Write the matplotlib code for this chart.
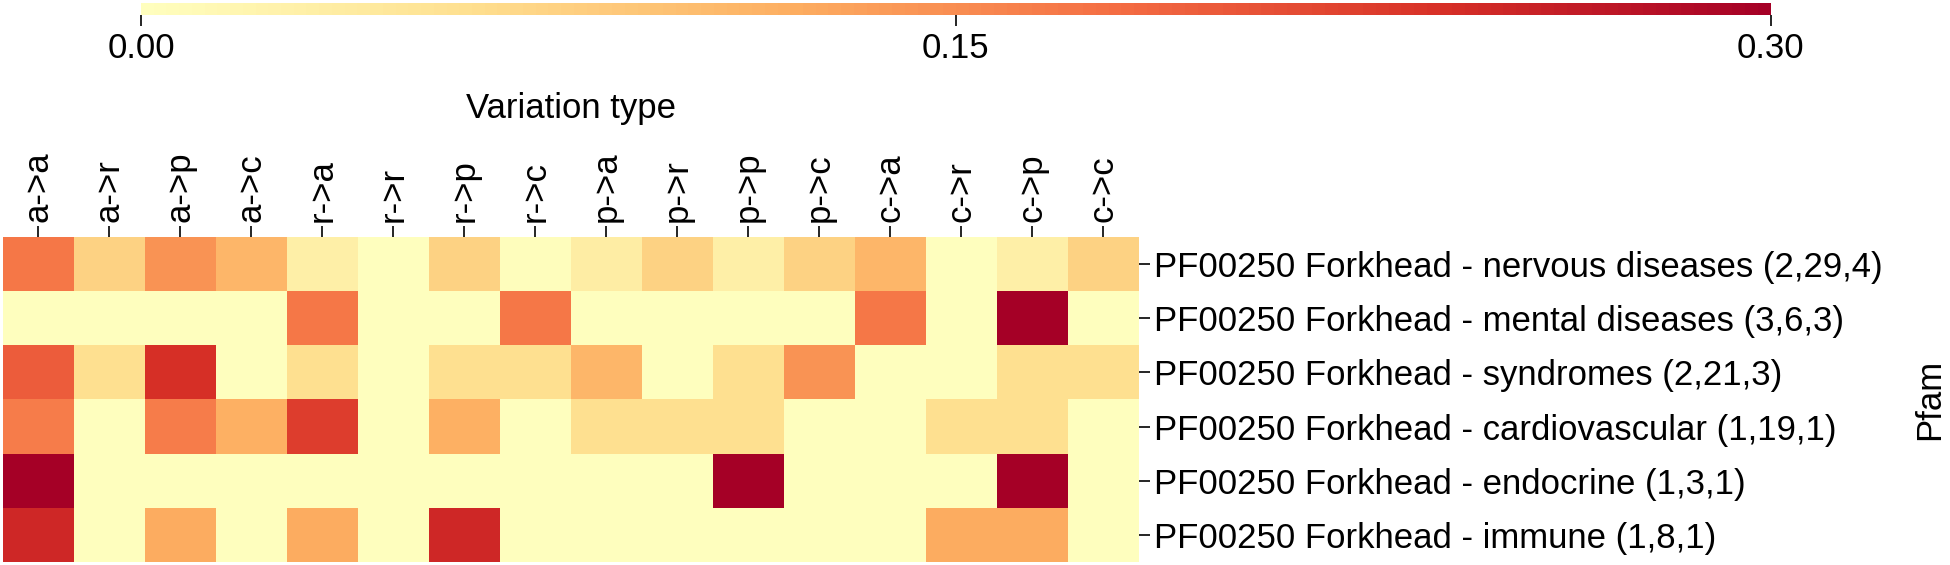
import numpy as np
import matplotlib
matplotlib.use("Agg")
import matplotlib.pyplot as plt
from matplotlib.colors import LinearSegmentedColormap

plt.rcParams["font.family"] = ["Liberation Sans", "DejaVu Sans"]

variation_types = ["a->a", "a->r", "a->p", "a->c",
                   "r->a", "r->r", "r->p", "r->c",
                   "p->a", "p->r", "p->p", "p->c",
                   "c->a", "c->r", "c->p", "c->c"]

pfam_labels = [
    "PF00250 Forkhead - nervous diseases (2,29,4)",
    "PF00250 Forkhead - mental diseases (3,6,3)",
    "PF00250 Forkhead - syndromes (2,21,3)",
    "PF00250 Forkhead - cardiovascular (1,19,1)",
    "PF00250 Forkhead - endocrine (1,3,1)",
    "PF00250 Forkhead - immune (1,8,1)",
]

nervous = [0.17, 0.075, 0.145, 0.11, 0.03, 0.0, 0.075, 0.003,
           0.035, 0.075, 0.03, 0.075, 0.11, 0.0, 0.03, 0.075]
mental = [0.0, 0.0, 0.0, 0.0, 0.17, 0.0, 0.0, 0.17,
          0.0, 0.0, 0.0, 0.0, 0.17, 0.0, 0.30, 0.0]
syndromes = [0.195, 0.06, 0.24, 0.0, 0.06, 0.0, 0.06, 0.06,
             0.11, 0.0, 0.06, 0.145, 0.0, 0.0, 0.06, 0.06]
cardiovascular = [0.165, 0.0, 0.165, 0.115, 0.225, 0.0, 0.115, 0.0,
                  0.06, 0.06, 0.06, 0.0, 0.0, 0.06, 0.06, 0.0]
endocrine = [0.30, 0.0, 0.0, 0.0, 0.0, 0.0, 0.0, 0.0,
             0.0, 0.0, 0.30, 0.0, 0.0, 0.0, 0.30, 0.0]
immune = [0.25, 0.0, 0.12, 0.0, 0.12, 0.0, 0.25, 0.0,
          0.0, 0.0, 0.0, 0.0, 0.0, 0.12, 0.12, 0.0]

values = np.array([nervous, mental, syndromes, cardiovascular, endocrine, immune])

# upper half of RdYlBu_r: pale yellow -> dark red
base = plt.get_cmap("RdYlBu_r")
cmap = LinearSegmentedColormap.from_list("half", base(np.linspace(0.5, 1.0, 256)))

fig = plt.figure(figsize=(19.5, 5.65), dpi=100)
ax = fig.add_axes([0.0015, 0.0053, 0.5825, 0.5752])
cax = fig.add_axes([0.0723, 0.9735, 0.8357, 0.0212])

im = ax.imshow(values, cmap=cmap, vmin=0, vmax=0.3, aspect="auto",
               interpolation="nearest")

ax.xaxis.tick_top()
ax.xaxis.set_label_position("top")
ax.set_xticks(np.arange(len(variation_types)))
ax.set_xticklabels(variation_types, rotation=90, fontsize=25)
ax.yaxis.tick_right()
ax.yaxis.set_label_position("right")
ax.set_yticks(np.arange(len(pfam_labels)))
ax.set_yticklabels(pfam_labels, fontsize=25)
ax.tick_params(length=8, width=1.2, pad=3)
for s in ax.spines.values():
    s.set_visible(False)

ax.set_xlabel("Variation type", fontsize=25, labelpad=24)
ax.set_ylabel("Pfam", fontsize=25, labelpad=22)

cb = fig.colorbar(im, cax=cax, orientation="horizontal", ticks=[0.0, 0.15, 0.30])
cb.outline.set_visible(False)
cb.ax.set_xticklabels(["0.00", "0.15", "0.30"])
cb.ax.tick_params(labelsize=25, length=8, width=1.2, pad=4)

fig.savefig("out.png", dpi=100)
